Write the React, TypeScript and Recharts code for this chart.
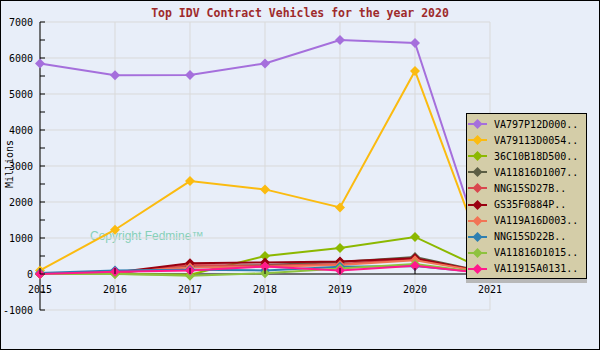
import { CartesianGrid, Legend, Line, LineChart, ReferenceLine, XAxis, YAxis } from "recharts";

const years = [2015, 2016, 2017, 2018, 2019, 2020, 2021];
const seriesNames = [
  "VA797P12D000..",
  "VA79113D0054..",
  "36C10B18D500..",
  "VA11816D1007..",
  "NNG15SD27B..",
  "GS35F0884P..",
  "VA119A16D003..",
  "NNG15SD22B..",
  "VA11816D1015..",
  "VA11915A0131..",
];
const seriesColors = ["#a56fdc", "#fbbb10", "#8cb800", "#5c5e44", "#d9474e", "#990010", "#f27455", "#2e7fb0", "#8ec23f", "#ff1a8c"];

const va797 = [5850, 5520, 5530, 5850, 6500, 6420, 60];
const va79113 = [100, 1230, 2580, 2350, 1850, 5640, 40];
const c36c10 = [0, 0, -20, 500, 720, 1030, 50];
const va1007 = [0, 20, 220, 250, 330, 470, 30];
const nng27b = [0, 30, 250, 230, 280, 420, 30];
const gs35 = [0, 40, 300, 320, 350, 440, 20];
const va119a = [0, 50, 180, 200, 250, 380, 30];
const nng22b = [30, 100, 120, 100, 200, 220, 20];
const va1015 = [0, 10, -50, 20, 150, 280, 10];
const va11915 = [0, 60, 100, 210, 100, 230, 10];

const seriesValues = [va797, va79113, c36c10, va1007, nng27b, gs35, va119a, nng22b, va1015, va11915];
const yTicks = [-1000, -500, 0, 500, 1000, 1500, 2000, 2500, 3000, 3500, 4000, 4500, 5000, 5500, 6000, 6500, 7000];
const gridValues = [-1000, 0, 1000, 2000, 3000, 4000, 5000, 6000, 7000];

const data = years.map((year, i) => {
  const row: Record<string, number> = { year };
  seriesValues.forEach((values, k) => (row[`s${k}`] = values[i]));
  return row;
});

const mono = "'DejaVu Sans Mono', monospace";
// zero line position inside the chart svg (plot top 21, height 288, domain -1000..7000)
const ZERO_Y = 21 + (288 * 7) / 8;

function Diamond({ cx, cy, fill }: any) {
  if (cx == null || cy == null) return null;
  return <path d={`M${cx},${cy - 5}L${cx + 5},${cy}L${cx},${cy + 5}L${cx - 5},${cy}Z`} fill={fill} />;
}

function YTick({ x, y, payload }: any) {
  const v = payload.value;
  return (
    <g>
      <line x1={x + 7} x2={x + 12} y1={y} y2={y} stroke="#000" />
      {v % 1000 === 0 && (
        <text x={x} y={y} dy={3.5} textAnchor="end" fontSize={10} fontFamily={mono} fill="#000">{v}</text>
      )}
    </g>
  );
}

function XTick({ x, payload }: any) {
  return (
    <g>
      <line x1={x} x2={x} y1={ZERO_Y - 6} y2={ZERO_Y} stroke="#000" />
      <text x={x} y={ZERO_Y + 19} textAnchor="middle" fontSize={10} fontFamily={mono} fill="#000">{payload.value}</text>
    </g>
  );
}

function LegendBox() {
  return (
    <div style={{ background: "#d4cda8", border: "1px solid #000", boxShadow: "0 4px 0 #b8b8b8", padding: "2px 0", height: 160 }}>
      {seriesNames.map((name, k) => (
        <div key={name} style={{ display: "flex", alignItems: "center", height: 16.1 }}>
          <svg width={24} height={12} style={{ marginLeft: 1 }}>
            <line x1={0} x2={19} y1={6} y2={6} stroke={seriesColors[k]} strokeWidth={2} />
            <path d="M9.5,1L14.5,6L9.5,11L4.5,6Z" fill={seriesColors[k]} />
          </svg>
          <span style={{ fontFamily: mono, fontSize: 10, color: "#000", marginLeft: 2 }}>{name}</span>
        </div>
      ))}
    </div>
  );
}

export default function App() {
  return (
    <div style={{ position: "relative", width: 600, height: 350, boxSizing: "border-box", border: "1px solid #000", background: "#e8eef9" }}>
      <style>{`body{margin:0}`}</style>
      <div style={{ position: "absolute", left: 0, top: 5, width: 598, textAlign: "center", fontFamily: mono, fontWeight: "bold", fontSize: 11.5, color: "#9e2a2b" }}>
        Top IDV Contract Vehicles for the year 2020
      </div>
      <div style={{ position: "absolute", left: 89, top: 228, fontFamily: "'Liberation Sans', Arial, sans-serif", fontSize: 12, color: "#86d0b8" }}>
        Copyright Fedmine™
      </div>
      <LineChart width={598} height={348} data={data} margin={{ top: 21, right: 109, bottom: 9, left: 9 }}>
        <CartesianGrid stroke="#d9d9d9" horizontalValues={gridValues} verticalValues={years} />
        <XAxis dataKey="year" type="number" domain={[2015, 2021]} ticks={years} axisLine={false} tickLine={false} tickSize={0} tickMargin={0} height={30} tick={<XTick />} interval={0} />
        <YAxis type="number" domain={[-1000, 7000]} ticks={yTicks} width={30} tickSize={0} tickMargin={7} tickLine={false} axisLine={{ stroke: "#000" }} tick={<YTick />} interval={0}
          label={{ content: () => <text transform="translate(12,163) rotate(-90)" textAnchor="middle" fontSize={10} fontFamily={mono} fill="#000">Millions</text> }} />
        <ReferenceLine y={0} stroke="#000" />
        {seriesNames.map((name, k) => (
          <Line key={name} type="linear" dataKey={`s${k}`} name={name} stroke={seriesColors[k]} strokeWidth={2} dot={<Diamond fill={seriesColors[k]} />} activeDot={false} isAnimationActive={false} />
        ))}
        <Legend layout="horizontal" verticalAlign="middle" align="center" content={<LegendBox />} wrapperStyle={{ left: 465, top: 112, width: 121, height: 166 }} />
      </LineChart>
    </div>
  );
}
